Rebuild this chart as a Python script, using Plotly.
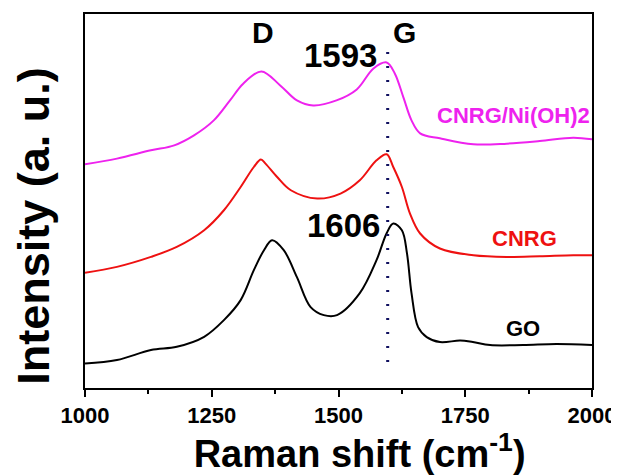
import plotly.graph_objects as go

# Raman shift (cm^-1) and intensity (a.u., offset stacks)
go_x = [1000, 1063, 1130, 1181, 1235, 1274, 1307, 1333, 1353, 1369, 1392, 1418, 1445, 1471,
        1497, 1542, 1575, 1595, 1608, 1625, 1635, 1644, 1657, 1674, 1700, 1740, 1765, 1799,
        1864, 1930, 2000]
go_y = [24.5, 28, 38, 41.3, 51.3, 68, 88, 118, 138, 148, 138, 111, 81, 73,
        73, 95, 128, 155, 164.7, 158, 135, 95, 61, 51, 46, 47.5, 46, 43,
        43, 44, 43]

cnrg_x = [1000, 1063, 1130, 1181, 1235, 1274, 1307, 1333, 1347, 1356, 1379, 1406, 1458, 1504,
          1542, 1575, 1595, 1608, 1625, 1641, 1661, 1700, 1766, 1832, 1897, 1963, 2000]
cnrg_y = [115.3, 121.3, 131.3, 141.3, 158, 178, 201.3, 221.3, 228.7, 224.7, 211.3, 198, 189.7, 194.7,
          208, 228, 234, 221.3, 201.3, 174.7, 154.7, 139.7, 133, 131.3, 132, 133, 133]

ni_x = [1000, 1063, 1130, 1176, 1215, 1254, 1286, 1312, 1348, 1385, 1418, 1450, 1496, 1536,
        1569, 1595, 1611, 1628, 1644, 1661, 1700, 1766, 1832, 1897, 1963, 2000]
ni_y = [224, 229.7, 238, 243, 253, 268, 288, 304.7, 317, 303, 288, 283, 288, 299,
        320, 326, 315, 291, 268, 255, 250, 244, 244.7, 247.3, 250.7, 249]

marker_x = [1597, 1597]
marker_y = [26, 338]

x_ticks = [1000, 1250, 1500, 1750, 2000]

FONT = "Liberation Sans, Arial, sans-serif"

fig = go.Figure()
fig.add_trace(go.Scatter(x=go_x, y=go_y, mode="lines", line=dict(color="black", width=2),
                         line_shape="spline", name="GO"))
fig.add_trace(go.Scatter(x=cnrg_x, y=cnrg_y, mode="lines", line=dict(color="#ee1111", width=2),
                         line_shape="spline", name="CNRG"))
fig.add_trace(go.Scatter(x=ni_x, y=ni_y, mode="lines", line=dict(color="#ee22ee", width=2),
                         line_shape="spline", name="CNRG/Ni(OH)2"))
fig.add_trace(go.Scatter(x=marker_x, y=marker_y, mode="lines",
                         line=dict(color="#101060", width=3, dash="2px,12px"), name="1593"))

ann = [
    dict(x=1351, y=356, text="<b>D</b>", size=30, color="black"),
    dict(x=1631, y=356, text="<b>G</b>", size=30, color="black"),
    dict(x=1503, y=333, text="<b>1593</b>", size=33, color="black"),
    dict(x=1509, y=163, text="<b>1606</b>", size=33, color="black"),
    dict(x=1846, y=273, text="<b>CNRG/Ni(OH)2</b>", size=22, color="#ee22ee"),
    dict(x=1866, y=150, text="<b>CNRG</b>", size=22, color="#ee1111"),
    dict(x=1864, y=60, text="<b>GO</b>", size=22, color="black"),
]
for a in ann:
    fig.add_annotation(x=a["x"], y=a["y"], text=a["text"], showarrow=False,
                       font=dict(family=FONT, size=a["size"], color=a["color"]),
                       xanchor="center", yanchor="middle")

# the page body has an 8px margin, so the figure is sized to fit the window
fig.update_layout(
    width=611, height=467,
    margin=dict(l=77, r=27, t=6, b=87),
    paper_bgcolor="white", plot_bgcolor="white",
    showlegend=False,
    font=dict(family=FONT, color="black"),
    xaxis=dict(range=[1000, 2000], tickvals=x_ticks, ticktext=[f"<b>{t}</b>" for t in x_ticks],
               ticks="outside", ticklen=7, tickwidth=2, tickcolor="black",
               minor=dict(tickvals=[1125, 1375, 1625, 1875], ticks="outside", ticklen=4,
                          tickwidth=2, tickcolor="black"),
               showline=True, linewidth=2, linecolor="black", mirror=True,
               showgrid=False, zeroline=False, automargin=False,
               tickfont=dict(family=FONT, size=22, color="black"),
               title=dict(text="<b>&nbsp;&nbsp;&nbsp;&nbsp;Raman shift (cm<sup>-1</sup>)</b>",
                          font=dict(family=FONT, size=38, color="black"), standoff=6)),
    yaxis=dict(range=[0, 374.5], showticklabels=False, ticks="",
               showline=True, linewidth=2, linecolor="black", mirror=True,
               showgrid=False, zeroline=False, automargin=False,
               title=dict(text="<b>Intensity (a. u.)&nbsp;&nbsp;&nbsp;&nbsp;</b>",
                          font=dict(family=FONT, size=45, color="black"), standoff=32)),
)

fig.write_html("out.html")
